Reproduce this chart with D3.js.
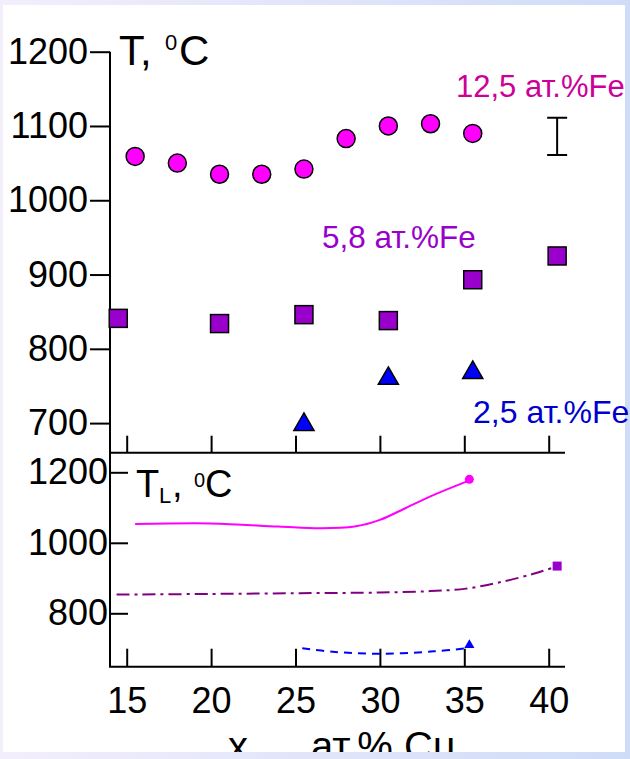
<!DOCTYPE html>
<html>
<head>
<meta charset="utf-8">
<script src="https://cdn.jsdelivr.net/npm/d3@7"></script>
<style>
  html, body { margin: 0; padding: 0; background: #fff; }
  svg { display: block; }
</style>
</head>
<body>
<div id="chart"></div>
<script>
// ── Data ────────────────────────────────────────────────────
const xTicks      = [15, 20, 25, 30, 35, 40];
const topYTicks   = [700, 800, 900, 1000, 1100, 1200];
const botYTicks   = [800, 1000, 1200];

// upper panel: measured points
const fe125X = [15.5, 18, 20.5, 23, 25.5, 28, 30.5, 33, 35.5];
const fe125T = [1059, 1050, 1035, 1035, 1042, 1083, 1100, 1103, 1090];
const fe58X  = [14.5, 20.5, 25.5, 30.5, 35.5, 40.5];
const fe58T  = [841, 834, 846, 838, 893, 925];
const fe25X  = [25.5, 30.5, 35.5];
const fe25T  = [698, 760, 768];
const errX   = 40.5;
const errT   = [1061, 1111];

// lower panel: liquidus curves
const liq125X = [15.5, 20, 24, 26.5, 28.5, 30, 31.5, 33.2, 35.2];
const liq125T = [1053, 1055, 1046, 1041, 1046, 1065, 1098, 1136, 1175];
const liq58X  = [14.4, 20, 25.3, 30, 33, 35.1, 37.1, 39.1, 40.4];
const liq58T  = [853, 855, 857, 859, 863, 870, 888, 912, 932];
const liq25X  = [25.4, 27.2, 30, 33.2, 35.2];
const liq25T  = [701, 691, 685, 692, 701];
const liqEnd  = [[35.3, 1180], [40.5, 934], [35.3, 710]];

const zip = (xs, ys) => xs.map((v, i) => ({ x: v, t: ys[i] }));

// ── Setup ───────────────────────────────────────────────────
const width = 630, height = 759;
const font = 'Liberation Sans, Arial, sans-serif';

const svg = d3.select('#chart').append('svg')
  .attr('width', width).attr('height', height);

// frame
const grad = svg.append('defs').append('linearGradient')
  .attr('id', 'frame').attr('x1', '0').attr('x2', '1');
grad.append('stop').attr('offset', '0').attr('stop-color', '#f3eefc');
grad.append('stop').attr('offset', '1').attr('stop-color', '#cfdcf8');
svg.select('defs').append('clipPath').attr('id', 'page')
  .append('rect').attr('x', 3).attr('y', 5).attr('width', 622).attr('height', 747);

svg.append('rect').attr('width', width).attr('height', height).attr('fill', 'url(#frame)');
svg.append('rect').attr('x', 3).attr('y', 5).attr('width', 622).attr('height', 747).attr('fill', '#fff');

const x = d3.scaleLinear().domain([15, 40]).range([126.7, 548.7]);
const yTop = d3.scaleLinear().domain([700, 1200]).range([423.1, 51.7]);
const yBot = d3.scaleLinear().domain([800, 1200]).range([613.3, 472.3]);

const axisX = 110, topBase = 452.7, botBase = 666.7, rightEnd = 565;

function styleAxis(g, size) {
  g.select('.domain').remove();
  g.selectAll('.tick line').attr('stroke', '#000').attr('stroke-width', 2);
  g.selectAll('text').attr('fill', '#000').attr('font-family', font).attr('font-size', size);
}

// ── Upper panel ─────────────────────────────────────────────
svg.append('g')
  .attr('transform', `translate(${axisX},0)`)
  .call(d3.axisLeft(yTop).tickValues(topYTicks).tickSize(20).tickPadding(2).tickFormat(d3.format('d')))
  .call(g => styleAxis(g, '36px'));

svg.append('g')
  .attr('transform', `translate(0,${topBase})`)
  .call(d3.axisBottom(x).tickValues(xTicks).tickSize(-17).tickFormat(''))
  .call(g => styleAxis(g, '36px'));

svg.append('path')
  .attr('d', `M${axisX},${yTop(1200)}V${topBase}H${rightEnd}`)
  .attr('fill', 'none').attr('stroke', '#000').attr('stroke-width', 2);

// error bar
svg.append('path')
  .attr('d', `M${x(errX) - 10},${yTop(errT[1])}h20M${x(errX)},${yTop(errT[1])}V${yTop(errT[0])}M${x(errX) - 10},${yTop(errT[0])}h20`)
  .attr('fill', 'none').attr('stroke', '#000').attr('stroke-width', 2);

svg.append('g').selectAll('circle')
  .data(zip(fe125X, fe125T)).join('circle')
  .attr('cx', d => x(d.x)).attr('cy', d => yTop(d.t)).attr('r', 9)
  .attr('fill', '#ff00ff').attr('stroke', '#000').attr('stroke-width', 1.5);

svg.append('g').selectAll('rect')
  .data(zip(fe58X, fe58T)).join('rect')
  .attr('x', d => x(d.x) - 9).attr('y', d => yTop(d.t) - 9)
  .attr('width', 18).attr('height', 18)
  .attr('fill', '#9900cc').attr('stroke', '#000').attr('stroke-width', 1.5);

const tri = d3.symbol().type(d3.symbolTriangle).size(175);
svg.append('g').selectAll('path')
  .data(zip(fe25X, fe25T)).join('path')
  .attr('transform', d => `translate(${x(d.x)},${yTop(d.t)})`)
  .attr('d', tri)
  .attr('fill', '#0000ff').attr('stroke', '#000').attr('stroke-width', 1.5);

// series labels
const labels = [
  { text: '12,5 ат.%Fe', x: 456, y: 97,  size: 31,   color: '#cc0099' },
  { text: '5,8 ат.%Fe',  x: 322, y: 248, size: 31.5, color: '#9900cc' },
  { text: '2,5 ат.%Fe',  x: 473, y: 423, size: 32,   color: '#0000cc' }
];
svg.append('g').selectAll('text')
  .data(labels).join('text')
  .attr('x', d => d.x).attr('y', d => d.y)
  .attr('font-family', font).attr('font-size', d => d.size + 'px')
  .attr('fill', d => d.color)
  .text(d => d.text);

// title T, 0C
const t1 = svg.append('text').attr('font-family', font).attr('fill', '#000');
t1.append('tspan').attr('x', 119).attr('y', 65).attr('font-size', '42px').text('T,');
t1.append('tspan').attr('x', 165).attr('y', 50).attr('font-size', '22px').text('0');
t1.append('tspan').attr('x', 179).attr('y', 65).attr('font-size', '42px').text('C');

// ── Lower panel ─────────────────────────────────────────────
svg.append('g')
  .attr('transform', `translate(${axisX},0)`)
  .call(d3.axisLeft(yBot).tickValues(botYTicks).tickSize(-18).tickPadding(2).tickFormat(d3.format('d')))
  .call(g => styleAxis(g, '36px'));

svg.append('g')
  .attr('transform', `translate(0,${botBase})`)
  .call(d3.axisBottom(x).tickValues(xTicks).tickSize(-18).tickPadding(21))
  .call(g => styleAxis(g, '36px'));

svg.append('path')
  .attr('d', `M${axisX},${topBase}V${botBase}H${rightEnd}`)
  .attr('fill', 'none').attr('stroke', '#000').attr('stroke-width', 2);

const line = d3.line().x(d => x(d.x)).y(d => yBot(d.t)).curve(d3.curveCatmullRom.alpha(0.5));

svg.append('path').datum(zip(liq125X, liq125T))
  .attr('d', line).attr('fill', 'none')
  .attr('stroke', '#ff00ff').attr('stroke-width', 2);

svg.append('path').datum(zip(liq58X, liq58T))
  .attr('d', line).attr('fill', 'none')
  .attr('stroke', '#800080').attr('stroke-width', 2)
  .attr('stroke-dasharray', '13,5,3,5');

svg.append('path').datum(zip(liq25X, liq25T))
  .attr('d', line).attr('fill', 'none')
  .attr('stroke', '#0000ff').attr('stroke-width', 2)
  .attr('stroke-dasharray', '8,6');

svg.append('circle')
  .attr('cx', x(liqEnd[0][0])).attr('cy', yBot(liqEnd[0][1])).attr('r', 4.5)
  .attr('fill', '#ff00ff');
svg.append('rect')
  .attr('x', x(liqEnd[1][0]) - 4.5).attr('y', yBot(liqEnd[1][1]) - 4.5)
  .attr('width', 9).attr('height', 9).attr('fill', '#9900cc');
svg.append('path')
  .attr('transform', `translate(${x(liqEnd[2][0])},${yBot(liqEnd[2][1])})`)
  .attr('d', d3.symbol().type(d3.symbolTriangle).size(45))
  .attr('fill', '#0000ff');

// title T_L, 0C
const t2 = svg.append('text').attr('font-family', font).attr('fill', '#000');
t2.append('tspan').attr('x', 136).attr('y', 497).attr('font-size', '38px').text('T');
t2.append('tspan').attr('x', 159).attr('y', 503).attr('font-size', '22px').text('L');
t2.append('tspan').attr('x', 172).attr('y', 497).attr('font-size', '38px').text(',');
t2.append('tspan').attr('x', 194).attr('y', 487).attr('font-size', '20px').text('0');
t2.append('tspan').attr('x', 205).attr('y', 497).attr('font-size', '38px').text('C');

// x axis title (cut by the page edge, as in the source figure)
const xt = svg.append('text').attr('font-family', font).attr('fill', '#000')
  .attr('clip-path', 'url(#page)');
xt.append('tspan').attr('x', 228).attr('y', 760).attr('font-size', '40px').text('x');
xt.append('tspan').attr('x', 249).attr('y', 772).attr('font-size', '24px').text('Cu,');
xt.append('tspan').attr('x', 311).attr('y', 760).attr('font-size', '40px').text('ат.% Cu');
</script>
</body>
</html>
